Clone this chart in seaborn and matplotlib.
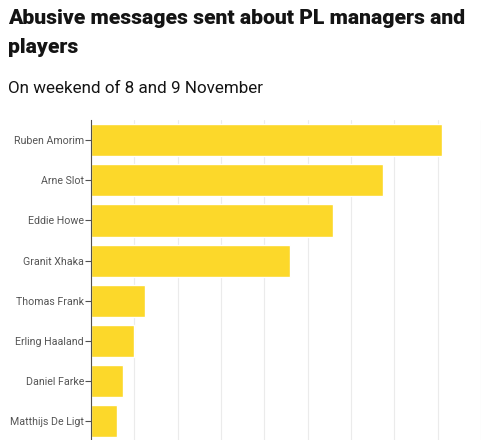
import matplotlib
matplotlib.use("Agg")
import matplotlib.pyplot as plt
import seaborn as sns
import pandas as pd

# Data (grid step = 100, no axis labels shown)
names = ["Ruben Amorim", "Arne Slot", "Eddie Howe", "Granit Xhaka",
         "Thomas Frank", "Erling Haaland", "Daniel Farke", "Matthijs De Ligt"]
messages = [809, 674, 559, 460, 125, 99, 74, 60]
grid_ticks = [0, 100, 200, 300, 400, 500, 600, 700, 800, 900]

df = pd.DataFrame({"name": names, "messages": messages})

sns.set_theme(style="white")
plt.rcParams["font.family"] = ["Roboto", "DejaVu Sans"]

fig = plt.figure(figsize=(5, 4.4), dpi=100)
ax = fig.add_axes([0.182, 0.0, 0.78, 0.727])

sns.barplot(data=df, x="messages", y="name", color="#FCD82A",
            width=0.8, saturation=1, ax=ax, zorder=2)

ax.set_xlim(0, 900)
ax.set_ylim(7.47, -0.5)
ax.set_xticks(grid_ticks)
ax.set_xticklabels([])
ax.tick_params(axis="x", length=0)
ax.grid(axis="x", color="#ebebeb", linewidth=0.8, zorder=0)
ax.set_axisbelow(True)
ax.set_xlabel("")
ax.set_ylabel("")

ax.tick_params(axis="y", length=4, width=0.8, color="#505050",
               labelsize=9.5, labelcolor="#555555", pad=1, left=True)
for s in ["top", "right", "bottom"]:
    ax.spines[s].set_visible(False)
ax.spines["left"].set_color("#505050")
ax.spines["left"].set_linewidth(0.8)

t1 = fig.text(0.016, 0.945, "Abusive messages sent about PL managers and",
              fontsize=17, fontweight="black", color="#141414")
t2 = fig.text(0.016, 0.88, "players", fontsize=17, fontweight="black", color="#141414")
t3 = fig.text(0.016, 0.789, "On weekend of 8 and 9 November", fontsize=13,
              color="#141414")

# shrink/grow text so widths match the reference's narrow font
r = fig.canvas.get_renderer()
w = t1.get_window_extent(r).width
size = 17 * 458 / w
t1.set_fontsize(size)
t2.set_fontsize(size)
w = t3.get_window_extent(r).width
t3.set_fontsize(13 * 254 / w)
labs = ax.get_yticklabels()
w = max(l.get_window_extent(r).width for l in labs)
ax.tick_params(axis="y", labelsize=9.5 * 75 / w)

fig.savefig("out.png", dpi=100, facecolor="white")
